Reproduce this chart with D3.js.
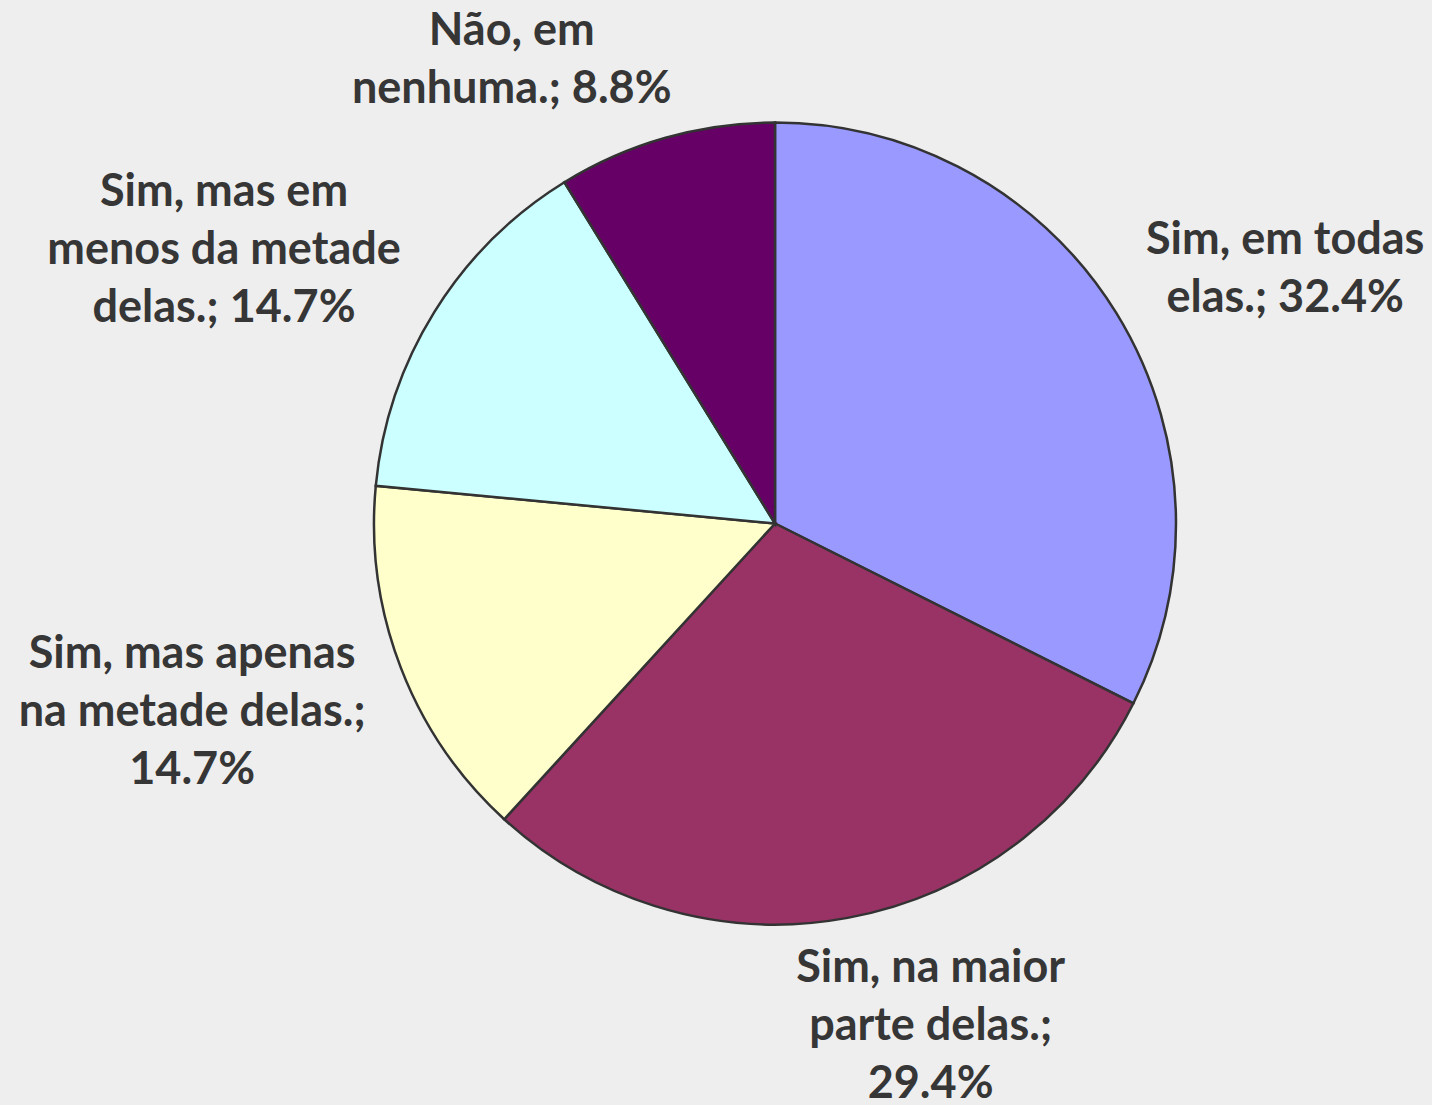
<html>
<head>
    <meta charset="UTF-8">
    <title>Pie chart</title>
    <script src="https://d3js.org/d3.v7.min.js"></script>
    <style>
        body { margin: 0; background: #eeeeee; }
        .slices path {
            stroke: #333333;
            stroke-width: 2.5px;
        }
        .labels text {
            font: bold 45px Lato, "Open Sans", sans-serif;
            fill: #363636;
        }
    </style>
</head>
<body>
    <svg width="1432" height="1105"></svg>
    <script>
        // data, clockwise from 12 o'clock
        var categories = ['Sim, em todas elas.', 'Sim, na maior parte delas.', 'Sim, mas apenas na metade delas.',
                          'Sim, mas em menos da metade delas.', 'Não, em nenhuma.'];
        var values = [32.4, 29.4, 14.7, 14.7, 8.8];
        var colors = ['#9999ff', '#993366', '#ffffcc', '#ccffff', '#660066'];
        // how each label text is wrapped in the original
        var labelLines = [
            ['Sim, em todas', 'elas.; 32.4%'],
            ['Sim, na maior', 'parte delas.;', '29.4%'],
            ['Sim, mas apenas', 'na metade delas.;', '14.7%'],
            ['Sim, mas em', 'menos da metade', 'delas.; 14.7%'],
            ['Não, em', 'nenhuma.; 8.8%']
        ];

        var svg = d3.select('svg'),
            cx = 775, cy = 523.5,
            radius = 401,
            lineHeight = 58,
            capHeight = 31;

        // label placement outside the pie: nudge of angle (deg) and extra distance from the rim
        var labelNudge = [
            { da: 5.0, dr: 170 },
            { da: -6.8, dr: 124 },
            { da: 3.3, dr: 211 },
            { da: -5.3, dr: 215 },
            { da: -13.7, dr: 133 }
        ];

        var data = categories.map(function (c, i) { return { name: c, value: values[i], i: i }; });

        var pie = d3.pie().sort(null).value(function (d) { return d.value; });
        var arc = d3.arc().innerRadius(0).outerRadius(radius);

        var g = svg.append('g').attr('transform', 'translate(' + cx + ',' + cy + ')');

        g.append('g').attr('class', 'slices')
            .selectAll('path')
            .data(pie(data))
            .enter()
            .append('path')
            .attr('d', arc)
            .attr('fill', function (d) { return colors[d.data.i]; });

        var labels = g.append('g').attr('class', 'labels')
            .selectAll('text')
            .data(pie(data))
            .enter()
            .append('text')
            .attr('text-anchor', 'middle')
            .attr('transform', function (d) {
                var n = labelNudge[d.data.i];
                var mid = (d.startAngle + d.endAngle) / 2 + n.da * Math.PI / 180;
                var p = d3.pointRadial(mid, radius + n.dr);
                return 'translate(' + p[0] + ',' + p[1] + ')';
            });

        labels.each(function (d) {
            var lines = labelLines[d.data.i];
            var first = -(lines.length - 1) * lineHeight / 2 + capHeight / 2;
            d3.select(this).selectAll('tspan')
                .data(lines)
                .enter()
                .append('tspan')
                .attr('x', 0)
                .attr('y', function (l, k) { return first + k * lineHeight; })
                .text(function (l) { return l; });
        });
    </script>
</body>
</html>
